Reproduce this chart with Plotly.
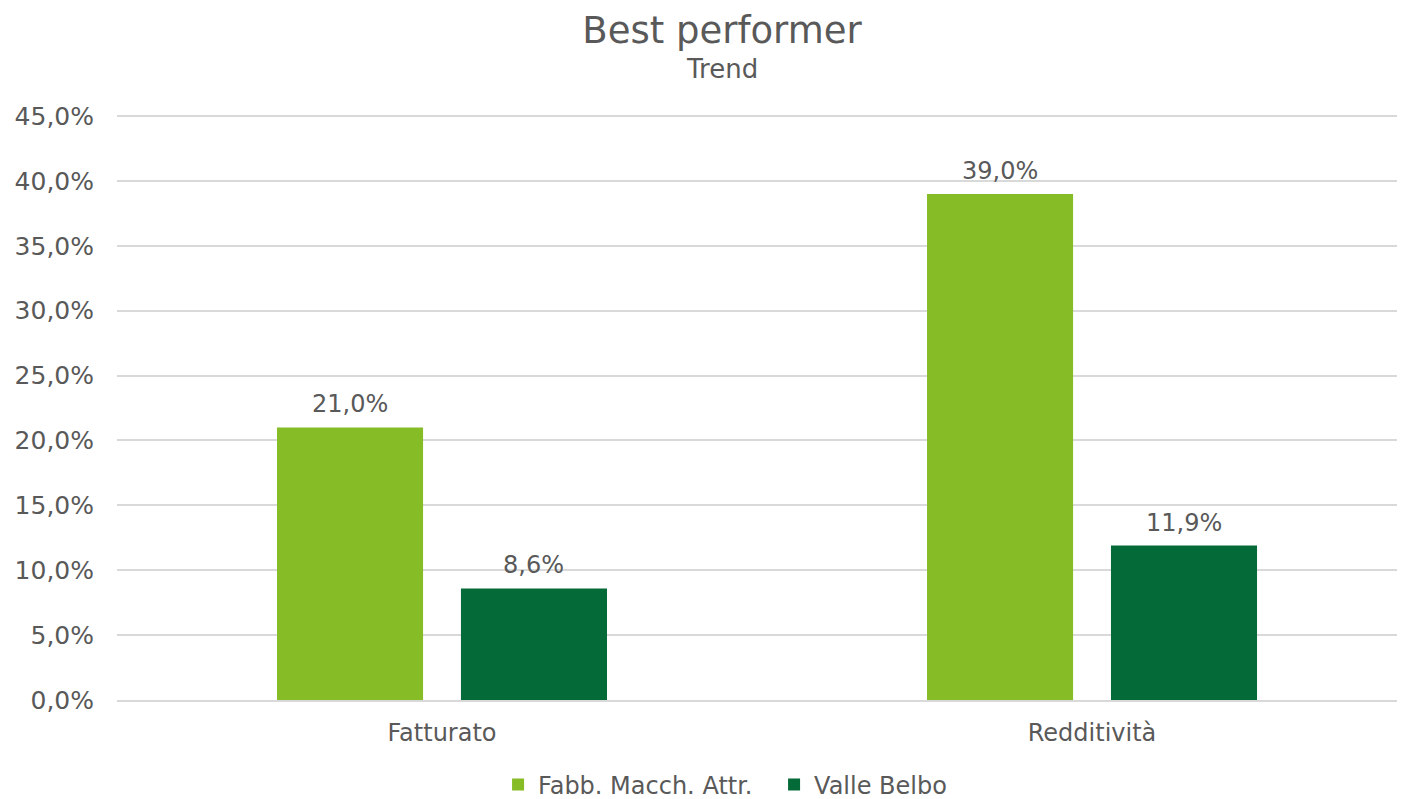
import plotly.graph_objects as go

categories = ["Fatturato", "Redditività"]
fabb_macch = [21.0, 39.0]
valle_belbo = [8.6, 11.9]
series_names = ["Fabb. Macch. Attr.", "Valle Belbo"]
series_colors = ["#86BC25", "#046A38"]
y_ticks = [0, 5, 10, 15, 20, 25, 30, 35, 40, 45]
y_tick_text = [f"{v:.1f}%".replace(".", ",") for v in y_ticks]

font_family = "DejaVu Sans, Verdana, sans-serif"
text_grey = "#595959"
bargap = 0.434

fig = go.Figure()

for name, values, color in zip(series_names, [fabb_macch, valle_belbo], series_colors):
    fig.add_trace(go.Bar(
        x=categories, y=values, name=name,
        marker=dict(color=color, line=dict(width=0)),
    ))

# value labels above each bar (offset within the group like plotly does)
slot = (1 - bargap) / 2
for k, values in enumerate([fabb_macch, valle_belbo]):
    for i, v in enumerate(values):
        fig.add_annotation(
            x=i + (k - 0.5) * slot, y=v, xref="x", yref="y",
            text=f"{v:.1f}%".replace(".", ","), showarrow=False,
            yanchor="bottom", yshift=7,
            font=dict(size=24, color=text_grey, family=font_family))

fig.update_layout(
    width=1405, height=799,
    paper_bgcolor="white", plot_bgcolor="white",
    font=dict(family=font_family, color=text_grey, size=24),
    barmode="group", bargap=bargap, bargroupgap=0.206,
    margin=dict(l=109, r=0, t=107, b=107, autoexpand=False),
    title=dict(text="Best performer", x=0.4668, xref="paper", xanchor="center",
               y=1 - 22 / 799, yanchor="middle",
               font=dict(size=37, color=text_grey, family=font_family)),
    showlegend=True,
    legend=dict(orientation="h", x=0.507, xanchor="center",
                y=-85 / 585, yanchor="middle", entrywidth=231,
                font=dict(size=24, color=text_grey, family=font_family),
                traceorder="normal"),
    xaxis=dict(range=[-0.5, 1.4938], showgrid=False, showline=True,
               linecolor="#d9d9d9", linewidth=2, ticks="",
               ticklabelstandoff=10,
               tickfont=dict(size=24, color=text_grey)),
    yaxis=dict(range=[0, 45.08], tickvals=y_ticks, ticktext=y_tick_text,
               showgrid=True, gridcolor="#d9d9d9", gridwidth=2,
               zeroline=False, showline=False, ticks="",
               ticklabelstandoff=22,
               tickfont=dict(size=25, color=text_grey)),
)

fig.add_annotation(text="Trend", x=0.4668, xref="paper", xanchor="center",
                   y=1 + (107 - 61) / 585, yref="paper", yanchor="middle",
                   showarrow=False,
                   font=dict(size=26, color=text_grey, family=font_family))

fig.write_html("out.html")
